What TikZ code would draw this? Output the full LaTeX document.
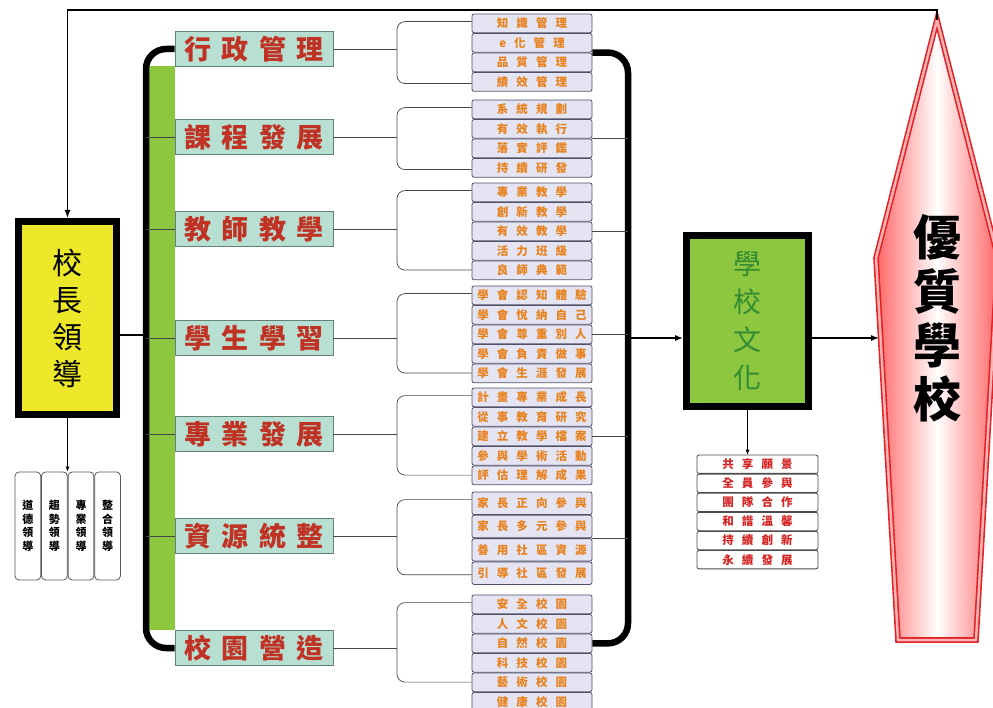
\documentclass[tikz,border=0pt]{standalone}
\usepackage{fontspec}
\setmainfont{Noto Sans CJK TC}
\newfontfamily\catfont[LetterSpace=38]{Noto Sans CJK TC}
\newfontfamily\itemfont[LetterSpace=70]{Noto Sans CJK TC}
\usetikzlibrary{positioning,arrows.meta}

\definecolor{leadyellow}{RGB}{238,232,42}
\definecolor{barlime}{RGB}{141,198,63}
\definecolor{catfill}{RGB}{184,224,210}
\definecolor{catborder}{RGB}{100,130,120}
\definecolor{catred}{RGB}{192,50,35}
\definecolor{subfill}{RGB}{228,228,242}
\definecolor{subborder}{RGB}{80,80,105}
\definecolor{suborange}{RGB}{232,130,30}
\definecolor{listred}{RGB}{212,35,35}
\definecolor{cultgreen}{RGB}{50,140,50}
\definecolor{qred}{RGB}{225,35,40}

\begin{document}
\begin{tikzpicture}[x=1pt, y=-1pt,
    leadbox/.style={draw=black, line width=7pt, fill=leadyellow, minimum width=98pt, minimum height=193pt, align=center, font=\fontsize{30}{37}\selectfont},
    stylebox/.style={draw=gray!70!black, fill=white, rounded corners=4pt, line width=0.8pt, minimum width=25.75pt, minimum height=108pt, inner sep=0pt, align=center, font=\bfseries\fontsize{11}{13.5}\selectfont},
    catbox/.style={draw=catborder, fill=catfill, line width=0.8pt, minimum width=158pt, minimum height=35pt, inner sep=0pt, text=catred, font=\catfont\bfseries\fontsize{27}{30}\selectfont},
    subbox/.style={draw=subborder, fill=subfill, rounded corners=2pt, line width=0.8pt, minimum width=120pt, minimum height=18.7pt, inner sep=0pt, text=suborange, font=\itemfont\bfseries\fontsize{11.5}{12}\selectfont},
    aimbox/.style={subbox, draw=gray!60!black, fill=white, minimum width=121pt, minimum height=18.3pt, text=listred},
    cultbox/.style={draw=black, line width=7pt, fill=barlime, minimum width=122pt, minimum height=171pt, align=center, text=cultgreen, font=\fontsize{28}{38}\selectfont},
    conn/.style={draw=gray!55!black, line width=0.7pt},
    spine/.style={line width=6.5pt, rounded corners=20pt},
    flow/.style={line width=1.3pt, -{Latex[length=8pt,width=6pt]}},
    thinflow/.style={line width=0.7pt, -{Latex[length=5pt,width=4pt]}}
]
\useasboundingbox (0,0) rectangle (993,708);

% principal leadership and its four styles
\node[leadbox] (principal) at (67.5,318) {校\\長\\領\\導};
\node[stylebox] (moral) at (27.9,526) {道\\德\\領\\導};
\node[stylebox, right=0pt of moral] (trend) {趨\\勢\\領\\導};
\node[stylebox, right=0pt of trend] (expert) {專\\業\\領\\導};
\node[stylebox, right=0pt of expert] (unify) {整\\合\\領\\導};
\draw[thinflow] (principal.south) -- (principal.south |- expert.north);

% the seven fields
\fill[barlime] (148,66) rectangle (175,630);
\node[catbox] (admin) at (254,49) {行政管理};
\node[catbox] (curriculum) at (254,137) {課程發展};
\node[catbox] (teaching) at (254,229) {教師教學};
\node[catbox] (learning) at (254,338) {學生學習};
\node[catbox] (profdev) at (254,434) {專業發展};
\node[catbox] (resource) at (254,536) {資源統整};
\node[catbox] (campus) at (254,648) {校園營造};

\coordinate (lspine) at (146,335);
\draw[spine] (admin.west) -| (lspine) |- (campus.west);
\draw[line width=1.3pt] (principal.east |- lspine) -- (lspine);
\fill (lspine) circle (2.5pt);
\draw[conn] (curriculum.west) -- (curriculum.west -| lspine);
\draw[conn] (teaching.west) -- (teaching.west -| lspine);
\draw[conn] (learning.west) -- (learning.west -| lspine);
\draw[conn] (profdev.west) -- (profdev.west -| lspine);
\draw[conn] (resource.west) -- (resource.west -| lspine);

% items of each field
\node[subbox] (adm1) at (532,23.35) {知識管理};
\node[subbox, below=0pt of adm1] (adm2) {e化管理};
\node[subbox, below=0pt of adm2] (adm3) {品質管理};
\node[subbox, below=0pt of adm3] (adm4) {績效管理};

\node[subbox] (cur1) at (532,109.35) {系統規劃};
\node[subbox, below=0pt of cur1] (cur2) {有效執行};
\node[subbox, below=0pt of cur2] (cur3) {落實評鑑};
\node[subbox, below=0pt of cur3] (cur4) {持續研發};

\node[subbox] (tea1) at (532,192.35) {專業教學};
\node[subbox, below=0pt of tea1] (tea2) {創新教學};
\node[subbox, below=0pt of tea2] (tea3) {有效教學};
\node[subbox, below=0pt of tea3] (tea4) {活力班級};
\node[subbox, below=0pt of tea4] (tea5) {良師典範};

\node[subbox] (stu1) at (532,295.35) {學會認知體驗};
\node[subbox, below=0pt of stu1] (stu2) {學會悅納自己};
\node[subbox, below=0pt of stu2] (stu3) {學會尊重別人};
\node[subbox, below=0pt of stu3] (stu4) {學會負責做事};
\node[subbox, below=0pt of stu4] (stu5) {學會生涯發展};

\node[subbox] (pro1) at (532,397.35) {計畫專業成長};
\node[subbox, below=0pt of pro1] (pro2) {從事教育研究};
\node[subbox, below=0pt of pro2] (pro3) {建立教學檔案};
\node[subbox, below=0pt of pro3] (pro4) {參與學術活動};
\node[subbox, below=0pt of pro4] (pro5) {評估理解成果};

\node[subbox, minimum height=22.5pt] (res1) at (532,503.25) {家長正向參與};
\node[subbox, minimum height=22.5pt, below=0pt of res1] (res2) {家長多元參與};
\node[subbox, minimum height=22.5pt, below=0pt of res2] (res3) {善用社區資源};
\node[subbox, minimum height=22.5pt, below=0pt of res3] (res4) {引導社區發展};

\node[subbox] (cam1) at (532,604.35) {安全校園};
\node[subbox, below=0pt of cam1] (cam2) {人文校園};
\node[subbox, below=0pt of cam2] (cam3) {自然校園};
\node[subbox, below=0pt of cam3] (cam4) {科技校園};
\node[subbox, below=0pt of cam4] (cam5) {藝術校園};
\node[subbox, below=0pt of cam5] (cam6) {健康校園};

% brackets from fields to items
\draw[conn] (admin.east) -- ++(64,0);
\draw[conn, rounded corners=8pt] ([yshift=-8pt]adm1.north west) -| (397,49) |- ([yshift=8pt]adm4.south west);
\draw[conn] (curriculum.east) -- ++(64,0);
\draw[conn, rounded corners=8pt] ([yshift=-8pt]cur1.north west) -| (397,137) |- ([yshift=8pt]cur4.south west);
\draw[conn] (teaching.east) -- ++(64,0);
\draw[conn, rounded corners=8pt] ([yshift=-8pt]tea1.north west) -| (397,229) |- ([yshift=10pt]tea5.south west);
\draw[conn] (learning.east) -- ++(64,0);
\draw[conn, rounded corners=8pt] ([yshift=-8pt]stu1.north west) -| (397,338) |- ([yshift=10pt]stu5.south west);
\draw[conn] (profdev.east) -- ++(64,0);
\draw[conn, rounded corners=8pt] ([yshift=-8pt]pro1.north west) -| (397,434) |- ([yshift=10pt]pro5.south west);
\draw[conn] (resource.east) -- ++(64,0);
\draw[conn, rounded corners=8pt] ([yshift=-8pt]res1.north west) -| (397,536) |- ([yshift=10pt]res4.south west);
\draw[conn] (campus.east) -- ++(64,0);
\draw[conn, rounded corners=8pt] ([yshift=-8pt]cam1.north west) -| (397,648) |- ([yshift=10pt]cam5.south west);

% right spine into school culture
\coordinate (rspine) at (628,338);
\draw[spine] (adm2.south east) -| (rspine) |- (cam3.east);
\draw[conn] (cur2.south east) -- (cur2.south east -| rspine);
\draw[conn] (tea3.east) -- (tea3.east -| rspine);
\draw[conn] (stu3.east) -- (stu3.east -| rspine);
\draw[conn] (pro3.east) -- (pro3.east -| rspine);
\draw[conn] (res2.south east) -- (res2.south east -| rspine);

\node[cultbox] (culture) at (747.5,321) {學\\校\\文\\化};
\draw[flow] (rspine) -- (rspine -| culture.west);

\node[aimbox] (aim1) at (757.5,464.2) {共享願景};
\node[aimbox, below=0pt of aim1] (aim2) {全員參與};
\node[aimbox, below=0pt of aim2] (aim3) {團隊合作};
\node[aimbox, below=0pt of aim3] (aim4) {和諧溫馨};
\node[aimbox, below=0pt of aim4] (aim5) {持續創新};
\node[aimbox, below=0pt of aim5] (aim6) {永續發展};
\draw[thinflow] (culture.south) -- (culture.south |- aim1.north);

% quality school
\coordinate (qtip) at (937,20);
\coordinate (qleft) at (879,338);
\draw[draw=qred, line width=1.6pt, double=red!30, double distance=2.5pt, left color=red!60, right color=red!60, middle color=white]
    (qtip) -- (998,258) -- (976,640) -- (898,640) -- (876,258) -- cycle;
\node[font=\bfseries\fontsize{48}{54}\selectfont, align=center] (quality) at (937,318) {優\\質\\學\\校};
\draw[flow] (culture.east |- rspine) -- (qleft);

% feedback to the principal
\coordinate (topturn) at (937,10);
\draw[line width=1.3pt, -{Latex[length=8pt,width=6pt]}] (qtip) -- (topturn) -| (principal.north);

\end{tikzpicture}
\end{document}
